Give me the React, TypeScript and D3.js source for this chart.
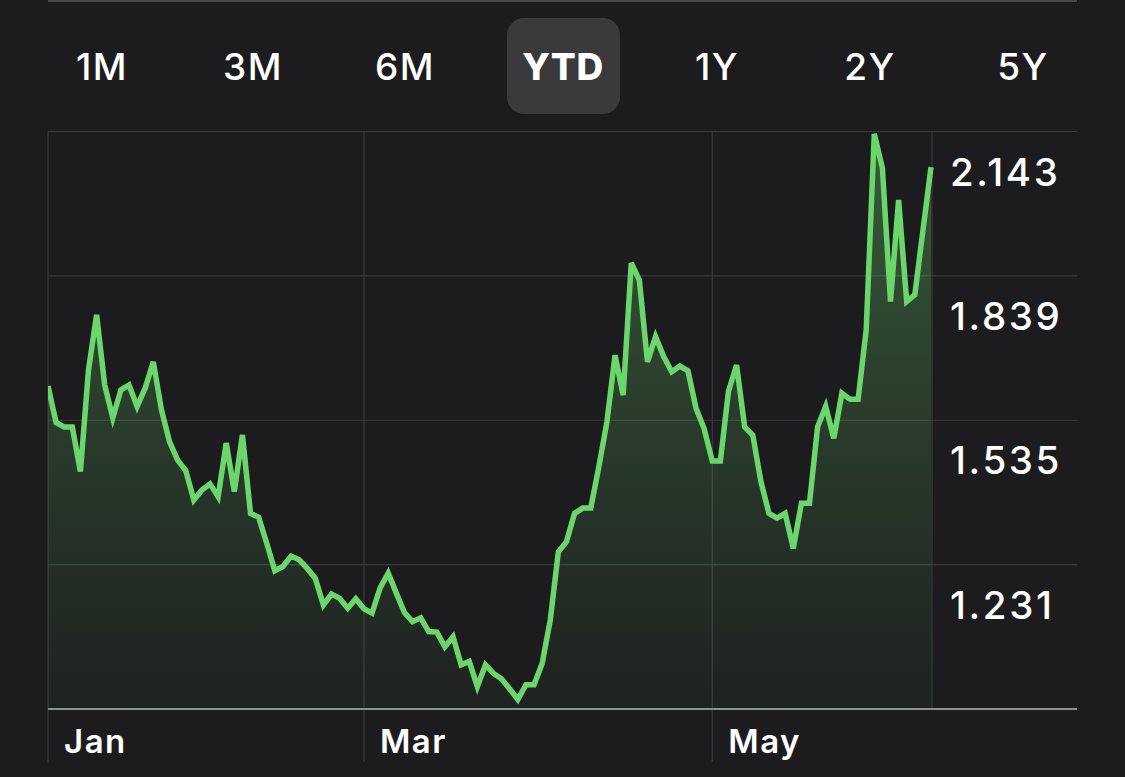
import React from "react";
import * as d3 from "d3";

const W = 1125;
const H = 777;

const ranges = ["1M", "3M", "6M", "YTD", "1Y", "2Y", "5Y"];
const selectedRange = "YTD";

const priceValues = [
  1.607, 1.530, 1.521, 1.521, 1.427, 1.641, 1.757, 1.609, 1.540, 1.599,
  1.609, 1.564, 1.603, 1.658, 1.557, 1.490, 1.451, 1.429, 1.367, 1.388,
  1.401, 1.374, 1.487, 1.385, 1.504, 1.339, 1.331, 1.276, 1.218, 1.227,
  1.249, 1.241, 1.223, 1.202, 1.146, 1.169, 1.160, 1.139, 1.159, 1.138,
  1.129, 1.182, 1.213, 1.171, 1.130, 1.111, 1.119, 1.090, 1.089, 1.058,
  1.079, 1.020, 1.027, 0.974, 1.020, 1.002, 0.990, 0.969, 0.947, 0.978,
  0.978, 1.023, 1.114, 1.258, 1.279, 1.339, 1.350, 1.350, 1.437, 1.532,
  1.672, 1.588, 1.866, 1.830, 1.658, 1.711, 1.669, 1.637, 1.649, 1.639,
  1.560, 1.517, 1.449, 1.449, 1.596, 1.651, 1.521, 1.504, 1.406, 1.339,
  1.329, 1.339, 1.265, 1.360, 1.360, 1.521, 1.564, 1.497, 1.592, 1.579,
  1.579, 1.725, 2.138, 2.066, 1.785, 1.999, 1.785, 1.799, 1.934, 2.068,
];

const yTickValues = [2.143, 1.839, 1.535, 1.231];
const yBaseValue = 0.927;

const monthLabels = ["Jan", "Mar", "May"];
const monthStartIndex = [0, 39, 82];

const BG = "#1c1c1e";
const GRID = "#3a3a3d";
const AXIS = "#8e8e93";
const GREEN = "#6bd66b";
const FONT = "Inter, 'Noto Sans', sans-serif";

export default function App() {
  const left = 48;
  const plotRight = 931;
  const gridRight = 1077;
  const top = 131.5;
  const bottom = 709;

  const x = d3.scaleLinear().domain([0, priceValues.length - 1]).range([left, plotRight]);
  const y = d3.scaleLinear().domain([yBaseValue, yTickValues[0]]).range([bottom, top]);

  const line = d3
    .line<number>()
    .x((_, i) => x(i))
    .y((d) => y(d))
    .curve(d3.curveLinear);
  const area = d3
    .area<number>()
    .x((_, i) => x(i))
    .y0(bottom)
    .y1((d) => y(d))
    .curve(d3.curveLinear);

  const tabCenters = [102, 253, 405, 563, 717, 870, 1023];

  return (
    <svg
      width={W}
      height={H}
      style={{ position: "fixed", left: 0, top: 0, display: "block" }}
    >
      <defs>
        <linearGradient id="fillGrad" gradientUnits="userSpaceOnUse" x1="0" y1={top} x2="0" y2={bottom}>
          <stop offset="0" stopColor={GREEN} stopOpacity={0.34} />
          <stop offset="0.5" stopColor={GREEN} stopOpacity={0.17} />
          <stop offset="1" stopColor={GREEN} stopOpacity={0.03} />
        </linearGradient>
        <clipPath id="plotClip">
          <rect x={left} y={top - 10} width={plotRight - left + 4} height={bottom - top + 10} />
        </clipPath>
      </defs>
      <rect x={0} y={0} width={W} height={H} fill={BG} />
      <rect x={left} y={0} width={gridRight - left} height={2} fill="#48484a" />

      {/* range tabs */}
      <rect x={507} y={18} width={113} height={96} rx={17} fill="#3a3a3c" />
      {ranges.map((r, i) => (
        <text
          key={r}
          x={tabCenters[i]}
          y={80}
          textAnchor="middle"
          fill="#ffffff"
          fontFamily={FONT}
          fontSize={37}
          fontWeight={r === selectedRange ? 800 : 500}
          letterSpacing={r === selectedRange ? 0.5 : 1.5}
        >
          {r}
        </text>
      ))}

      {/* horizontal grid */}
      {yTickValues.map((v) => (
        <line key={v} x1={left} x2={gridRight} y1={y(v)} y2={y(v)} stroke={GRID} strokeWidth={1.2} />
      ))}

      {/* vertical month lines */}
      {monthStartIndex.map((idx) => (
        <line key={idx} x1={x(idx)} x2={x(idx)} y1={top} y2={762} stroke={GRID} strokeWidth={1.2} />
      ))}
      <line x1={x(priceValues.length - 1) + 1} x2={x(priceValues.length - 1) + 1} y1={top} y2={bottom} stroke={GRID} strokeWidth={1.2} />

      {/* area + line */}
      <path d={area(priceValues) ?? ""} fill="url(#fillGrad)" />
      <path
        d={line(priceValues) ?? ""}
        fill="none"
        stroke={GREEN}
        strokeWidth={5.5}
        strokeLinejoin="miter"
        strokeMiterlimit={4}
        clipPath="url(#plotClip)"
      />

      {/* baseline */}
      <line x1={left} x2={gridRight} y1={y(yBaseValue)} y2={y(yBaseValue)} stroke={AXIS} strokeWidth={2.2} />

      {/* y labels */}
      {yTickValues.map((v) => (
        <text
          key={v}
          x={950}
          y={y(v) + 54}
          fill="#ffffff"
          fontFamily={FONT}
          fontSize={38.5}
          fontWeight={500}
          letterSpacing={2.6}
        >
          {v.toFixed(3)}
        </text>
      ))}

      {/* x labels */}
      {monthLabels.map((m, i) => (
        <text
          key={m}
          x={x(monthStartIndex[i]) + 16}
          y={753}
          fill="#ffffff"
          fontFamily={FONT}
          fontSize={33}
          fontWeight={600}
          letterSpacing={1.5}
        >
          {m}
        </text>
      ))}
    </svg>
  );
}
